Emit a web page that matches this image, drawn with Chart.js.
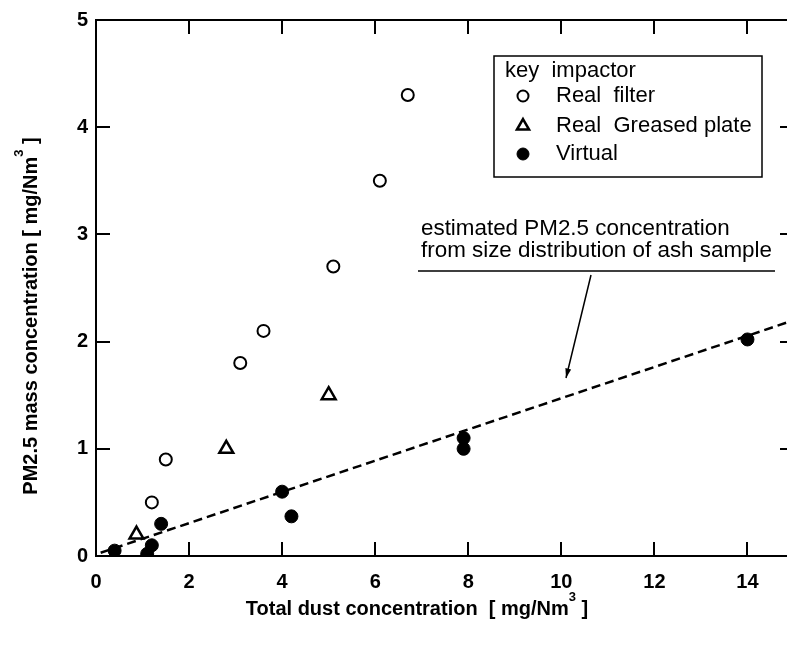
<!DOCTYPE html>
<html><head><meta charset="utf-8">
<script src="https://cdn.jsdelivr.net/npm/chart.js@4.4.1/dist/chart.umd.min.js"></script>
<style>
html,body{margin:0;padding:0;overflow:hidden;background:#fff;width:787px;height:651px}
#wrap{position:absolute;left:0;top:0;width:810px;height:651px}
</style></head><body>
<div id="wrap"><canvas id="c" width="810" height="651"></canvas></div>
<script>
// ---- data ----
const realFilterX = [1.2, 1.5, 3.1, 3.6, 5.1, 6.1, 6.7];
const realFilterY = [0.5, 0.9, 1.8, 2.1, 2.7, 3.5, 4.3];
const greasedX = [0.87, 2.8, 5.0];
const greasedY = [0.2, 1.0, 1.5];
const virtualX = [0.4, 1.1, 1.2, 1.4, 4.0, 4.2, 7.9, 7.9, 14.0];
const virtualY = [0.05, 0.02, 0.1, 0.3, 0.6, 0.37, 1.1, 1.0, 2.02];
const estimateX = [0.1, 15];
const estimateY = [0.03, 2.2];
const xTicks = [0, 2, 4, 6, 8, 10, 12, 14];
const yTicks = [0, 1, 2, 3, 4, 5];
const legendTitle = 'key  impactor';
const seriesNames = ['Real  filter', 'Real  Greased plate', 'Virtual'];
const noteLines = ['estimated PM2.5 concentration', 'from size distribution of ash sample'];
const xTitleParts = [['Total dust concentration  [ mg/Nm', false], ['3', true], [' ]', false]];
const yTitleParts = [['PM2.5 mass concentration [ mg/Nm', false], ['3', true], [' ]', false]];

const pts = (xs, ys) => xs.map((x, i) => ({x, y: ys[i]}));
const TITLE_FONT = 'bold 20px "Liberation Sans", Arial, sans-serif';
const SUP_FONT = 'bold 13px "Liberation Sans", Arial, sans-serif';
const TEXT_FONT = '22px "Liberation Sans", Arial, sans-serif';
const NOTE_FONT = '22.4px "Liberation Sans", Arial, sans-serif';

function drawRich(ctx, parts, cx, cy) {
  const sizes = parts.map(p => {
    ctx.font = p[1] ? SUP_FONT : TITLE_FONT;
    return ctx.measureText(p[0]).width;
  });
  const total = sizes.reduce((a, b) => a + b, 0);
  let x = cx - total / 2;
  ctx.textBaseline = 'middle';
  ctx.textAlign = 'left';
  parts.forEach((p, i) => {
    ctx.font = p[1] ? SUP_FONT : TITLE_FONT;
    ctx.fillText(p[0], x, p[1] ? cy - 12 : cy);
    x += sizes[i];
  });
}

const decor = {
  id: 'decor',
  afterDraw(chart) {
    const {ctx, chartArea: a, scales: {x, y}} = chart;
    ctx.save();
    ctx.strokeStyle = '#000';
    ctx.fillStyle = '#000';
    ctx.lineWidth = 2;
    ctx.strokeRect(a.left, a.top, a.right - a.left, a.bottom - a.top);
    const tl = 14;
    ctx.beginPath();
    xTicks.forEach(v => {
      if (v === 0) return;
      const px = Math.round(x.getPixelForValue(v));
      ctx.moveTo(px, a.bottom); ctx.lineTo(px, a.bottom - tl);
      ctx.moveTo(px, a.top); ctx.lineTo(px, a.top + tl);
    });
    yTicks.forEach(v => {
      if (v === 0 || v === 5) return;
      const py = Math.round(y.getPixelForValue(v));
      ctx.moveTo(a.left, py); ctx.lineTo(a.left + tl, py);
      ctx.moveTo(a.right, py); ctx.lineTo(a.right - tl, py);
    });
    ctx.stroke();

    // axis titles
    drawRich(ctx, xTitleParts, 417, 609);
    ctx.save();
    ctx.translate(31, 316);
    ctx.rotate(-Math.PI / 2);
    drawRich(ctx, yTitleParts, 0, 0);
    ctx.restore();

    // legend box
    ctx.lineWidth = 1.5;
    ctx.strokeRect(494, 56, 268, 121);
    ctx.font = TEXT_FONT;
    ctx.textBaseline = 'middle';
    ctx.textAlign = 'left';
    ctx.fillText(legendTitle, 505, 71);
    const rowsY = [96, 126, 154];
    chart.data.datasets.slice(0, 3).forEach((d, i) => {
      ctx.save();
      ctx.fillStyle = d.backgroundColor;
      ctx.strokeStyle = d.borderColor;
      ctx.lineWidth = d.borderWidth;
      Chart.helpers.drawPoint(ctx, {pointStyle: d.pointStyle, radius: d.legendRadius, borderWidth: d.borderWidth, rotation: 0}, 523, rowsY[i]);
      ctx.restore();
      ctx.fillStyle = '#000';
      ctx.font = TEXT_FONT;
      ctx.fillText(seriesNames[i], 556, rowsY[i]);
    });

    // annotation
    ctx.font = NOTE_FONT;
    ctx.textBaseline = 'alphabetic';
    ctx.fillText(noteLines[0], 421, 235);
    ctx.fillText(noteLines[1], 421, 257);
    ctx.lineWidth = 1.5;
    ctx.beginPath();
    ctx.moveTo(418, 271); ctx.lineTo(775, 271);
    ctx.moveTo(591, 275); ctx.lineTo(566, 378);
    ctx.stroke();
    const ang = Math.atan2(378 - 275, 566 - 591);
    ctx.beginPath();
    ctx.moveTo(566, 378);
    ctx.lineTo(566 - 10 * Math.cos(ang - 0.3), 378 - 10 * Math.sin(ang - 0.3));
    ctx.lineTo(566 - 10 * Math.cos(ang + 0.3), 378 - 10 * Math.sin(ang + 0.3));
    ctx.closePath();
    ctx.fill();
    ctx.restore();
  }
};

new Chart(document.getElementById('c'), {
  type: 'scatter',
  data: {
    datasets: [
      {label: seriesNames[0], data: pts(realFilterX, realFilterY), pointStyle: 'circle', pointRadius: 6, legendRadius: 5.5,
       backgroundColor: '#fff', borderColor: '#000', borderWidth: 2},
      {label: seriesNames[1], data: pts(greasedX, greasedY), pointStyle: 'triangle', pointRadius: 8, legendRadius: 7,
       backgroundColor: '#fff', borderColor: '#000', borderWidth: 2.5},
      {label: seriesNames[2], data: pts(virtualX, virtualY), pointStyle: 'circle', pointRadius: 6.5, legendRadius: 6,
       backgroundColor: '#000', borderColor: '#000', borderWidth: 1},
      {label: 'estimate', type: 'line', data: pts(estimateX, estimateY), borderColor: '#000', borderWidth: 2.5,
       borderDash: [9, 5], pointRadius: 0, fill: false}
    ]
  },
  options: {
    responsive: false,
    animation: false,
    devicePixelRatio: 1,
    events: [],
    layout: {padding: {left: 0, top: 18, right: 16, bottom: 0}},
    plugins: {legend: {display: false}, tooltip: {enabled: false}},
    scales: {
      x: {
        type: 'linear', min: 0, max: 15,
        afterBuildTicks: s => { s.ticks = xTicks.map(v => ({value: v})); },
        afterFit: s => { s.height = 95; },
        grid: {display: false, drawTicks: false},
        border: {display: false},
        ticks: {padding: 14, color: '#000', font: {family: '"Liberation Sans", Arial, sans-serif', weight: 'bold', size: 20}, maxRotation: 0}
      },
      y: {
        type: 'linear', min: 0, max: 5,
        afterBuildTicks: s => { s.ticks = yTicks.map(v => ({value: v})); },
        afterFit: s => { s.width = 96; },
        grid: {display: false, drawTicks: false},
        border: {display: false},
        ticks: {padding: 8, color: '#000', font: {family: '"Liberation Sans", Arial, sans-serif', weight: 'bold', size: 20}}
      }
    }
  },
  plugins: [decor]
});
</script>
</body></html>
